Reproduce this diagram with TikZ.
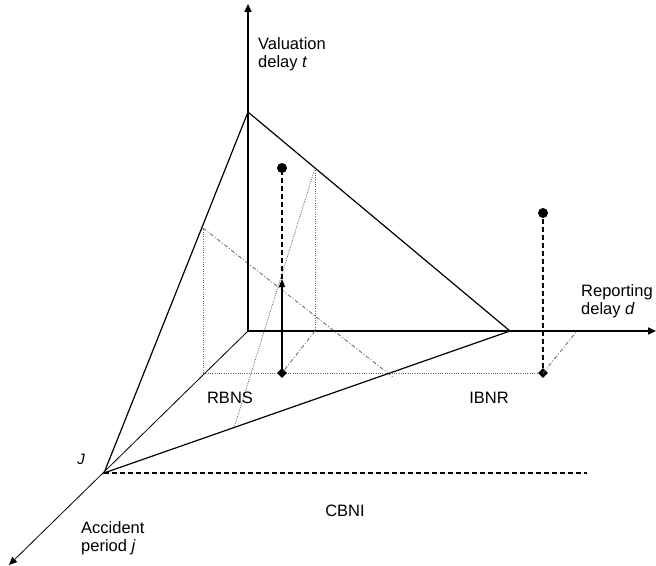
\documentclass[tikz,border=0pt]{standalone}
\usepackage{fontspec}
\setmainfont{Liberation Sans}
\usetikzlibrary{arrows.meta,shapes.geometric}
\begin{document}
\begin{tikzpicture}[x=1bp,y=-1bp,
  axis/.style={line width=1.6bp, -{Triangle[length=8bp,width=7bp]}},
  thinaxis/.style={line width=0.8bp, -{Triangle[length=8bp,width=7bp]}},
  edge/.style={line width=1.2bp},
  guide/.style={line width=0.8bp, black!60, dash pattern=on 1bp off 1.3bp},
  cut/.style={line width=0.8bp, black!60, dash pattern=on 4bp off 2bp on 1bp off 2bp},
  dashline/.style={line width=1.2bp, dash pattern=on 5bp off 3bp},
  lbl/.style={font=\fontsize{16.5bp}{18bp}\selectfont, inner sep=0pt, align=left},
  ball/.style={circle, fill=black, minimum size=10bp, inner sep=0pt},
  dia/.style={diamond, fill=black, minimum size=10bp, inner sep=0pt},
]
\useasboundingbox (0,0) rectangle (656,566);
% key points
\coordinate (O) at (248,331);
\coordinate (Tend) at (248,4);
\coordinate (Dend) at (656,331);
\coordinate (Jend) at (9,565);
\coordinate (J) at (104,473);
\coordinate (T) at (248,112);
\coordinate (R) at (510,331);
\coordinate (A) at (203,373);
\coordinate (B) at (203,228);
\coordinate (Bend) at (394,378);
\coordinate (C) at (315,168);
\coordinate (C0) at (315,331);
\coordinate (Cend) at (234,428);
\coordinate (Aend) at (543,373);
\coordinate (CBend) at (587,473);
\coordinate (Q2end) at (577,331);
\coordinate (Mid) at (282,279);
% guides
\draw[guide] (A) -- (B);
\draw[guide] (A) -- (Aend);
\draw[guide] (C) -- (C0);
\draw[guide] (C) -- (Cend);
\draw[cut] (B) -- (Bend);
% axes
\draw[axis] (O) -- (Tend);
\draw[axis] (O) -- (Dend);
\draw[thinaxis] (O) -- (Jend);
% triangle
\draw[edge] (J) -- (T) -- (R) -- cycle;
\draw[dashline] (J) -- (CBend);
% markers
\node[ball] (P1) at (282,168) {};
\node[dia] (D1) at (282,373) {};
\node[ball] (P2) at (543,213) {};
\node[dia] (D2) at (543,373) {};
\draw[cut] (C0) -- (D1.center);
\draw[cut] (D2.center) -- (Q2end);
\draw[line width=1.2bp, -{Triangle[length=8bp,width=6bp]}] (D1.center) -- (Mid);
\draw[dashline] (Mid) -- (P1.center);
\draw[dashline] (D2) -- (P2);
% labels
\node[lbl, anchor=base west] (lt) at (258,68) {Valuation\\delay \textit{t}};
\node[lbl, anchor=base west] (ld) at (581,314) {Reporting\\delay \textit{d}};
\node[lbl, anchor=base west] (lj) at (81,551) {Accident\\period \textit{j}};
\node[lbl] (rbns) at (230,398) {RBNS};
\node[lbl] (ibnr) at (489,398) {IBNR};
\node[lbl] (cbni) at (345,511) {CBNI};
\node[lbl, font=\fontsize{15bp}{17bp}\selectfont\itshape] (jl) at (81,459) {J};
\end{tikzpicture}
\end{document}
